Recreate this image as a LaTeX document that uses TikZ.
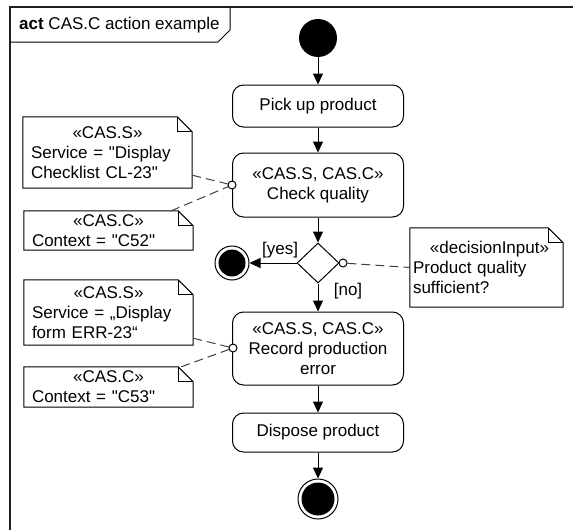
\documentclass[tikz,border=0pt]{standalone}
\usepackage{fontspec}
\setmainfont{Liberation Sans}[Ligatures=TeXOff]
\usetikzlibrary{shapes.geometric,arrows.meta,calc}

\begin{document}
\begin{tikzpicture}[x=1pt,y=-1pt,
  every node/.style={font=\fontsize{17}{20}\selectfont},
  action/.style={draw, rounded corners=11pt, line width=1pt, align=center,
    inner sep=0pt, minimum width=171pt},
  flow/.style={draw, line width=1pt, -{Triangle[length=11pt,width=10pt]}},
  link/.style={draw, line width=1pt, gray!50!black, dash pattern=on 9pt off 5pt},
  notebox/.style={draw=none, inner xsep=8pt, inner ysep=0pt, text width=153pt,
    minimum width=169pt},
  pin/.style={circle, draw, fill=white, line width=1pt, inner sep=0pt, minimum size=8pt},
  startnode/.style={circle, fill=black, inner sep=0pt, minimum size=38pt},
  endnode/.style={circle, draw, line width=1pt, inner sep=0pt, minimum size=2*#1,
    path picture={\fill (path picture bounding box.center) circle (#1-3.5pt);}},
]
\useasboundingbox (0,0) rectangle (573,530);

% activity frame with name tab
\draw[line width=1.6pt, gray!25!black] (10,530) -- (10,7) -- (573,7);
\draw[line width=1pt] (10,42) -- (218,42) -- (230,30) -- (230,7);
\node[anchor=west, inner sep=0pt] (title) at (19,25) {\textbf{act} CAS.C action example};

% control flow
\node[startnode] (start) at (318,38) {};
\node[action, minimum height=42pt] (pick) at (318,106) {Pick up product};
\node[action, minimum height=64pt] (check) at (318,185) {«CAS.S, CAS.C»\\Check quality};
\node[diamond, draw, line width=1pt, inner sep=0pt, minimum width=42pt, minimum height=40pt] (dec) at (318,263) {};
\node[endnode=17pt] (fyes) at (232,263) {};
\node[action, minimum height=73pt] (record) at (318,348.5) {«CAS.S, CAS.C»\\Record production\\error};
\node[action, minimum height=39pt] (dispose) at (318,432.5) {Dispose product};
\node[endnode=20pt] (fend) at (318,499) {};

\draw[flow] (start) -- (pick);
\draw[flow] (pick) -- (check);
\draw[flow] (check) -- (dec);
\draw[flow] (dec.west) -- node[above=1pt, pos=0.35] (yes) {[yes]} (fyes);
\draw[flow] (dec.south) -- (record);
\node (no) at (348,291) {[no]};
\draw[flow] (record) -- (dispose);
\draw[flow] (dispose) -- (fend);

% comment notes
\node[notebox, minimum height=71pt] (n1) at (107.5,152.5)
  {{\centering «CAS.S»\par}\raggedright Service = "Display\\Checklist CL-23"};
\node[notebox, minimum height=39pt] (n2) at (108.5,230.5)
  {{\centering «CAS.C»\par}\raggedright Context = "C52"};
\node[notebox, minimum height=65pt] (n3) at (108.5,312.5)
  {{\centering «CAS.S»\par}\raggedright Service = „Display\\form ERR-23“};
\node[notebox, minimum height=40pt] (n4) at (108.5,387)
  {{\centering «CAS.C»\par}\raggedright Context = "C53"};
\node[notebox, inner xsep=3pt, text width=147pt, minimum width=153pt, minimum height=79pt] (nd) at (486.5,267.5)
  {{\centering\hspace*{6pt}«decisionInput»\par}\raggedright Product quality\\sufficient?};

\foreach \n in {n1,n2,n3,n4,nd}{
  \draw[line width=1pt] (\n.north west) -- ([xshift=-15pt]\n.north east)
    -- ([yshift=-15pt]\n.north east) -- (\n.south east) -- (\n.south west) -- cycle;
  \draw[line width=0.8pt] ([xshift=-15pt]\n.north east) |- ([yshift=-15pt]\n.north east);
}

% pins and note links
\node[pin] (pc) at (232,185) {};
\node[pin] (pr) at (233,348) {};
\node[pin] (pd) at (343,263) {};
\draw[link] ([yshift=13pt]n1.south east) -- (pc);
\draw[link] ([xshift=-22pt]n2.north east) -- (pc);
\draw[link] ([yshift=7pt]n3.south east) -- (pr);
\draw[link] ([xshift=-12pt]n4.north east) -- (pr);
\draw[link] (pd) -- (nd.west);
\end{tikzpicture}
\end{document}
